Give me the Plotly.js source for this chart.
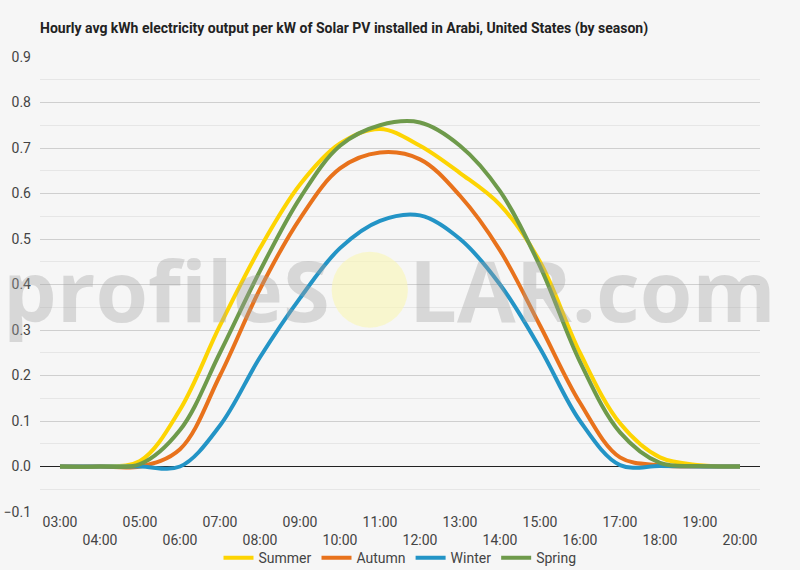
<!DOCTYPE html>
<html>
<head>
<meta charset="utf-8">
<script src="https://cdn.plot.ly/plotly-3.0.1.min.js"></script>
<style>
  html, body { margin: 0; padding: 0; background: #f6f6f6; }
  #chart { width: 800px; height: 570px; }
</style>
</head>
<body>
<div id="chart"></div>
<script>
const hours = [
  "03:00", "04:00", "05:00", "06:00", "07:00", "08:00", "09:00", "10:00", "11:00",
  "12:00", "13:00", "14:00", "15:00", "16:00", "17:00", "18:00", "19:00", "20:00",
];

const summer = [0, 0, 0.012, 0.125, 0.31, 0.48, 0.62, 0.71, 0.742, 0.705, 0.645, 0.575, 0.45, 0.25, 0.095, 0.02, 0.003, 0];
const autumn = [0, 0, 0, 0.038, 0.2, 0.39, 0.545, 0.655, 0.69, 0.675, 0.595, 0.475, 0.31, 0.14, 0.02, 0.003, 0, 0];
const winter = [0, 0, 0, 0, 0.09, 0.24, 0.37, 0.48, 0.54, 0.552, 0.5, 0.4, 0.26, 0.1, 0.003, 0.001, 0, 0];
const spring = [0, 0, 0.005, 0.08, 0.25, 0.43, 0.59, 0.705, 0.75, 0.756, 0.705, 0.605, 0.44, 0.23, 0.075, 0.008, 0.001, 0];

const seriesNames = ["Summer", "Autumn", "Winter", "Spring"];

const THEME = {
  ink: "#222222",
  tick: "#444444",
  grid: "#cfcfcf",
  minorGrid: "#e6e6e6",
  paper: "#f6f6f6",
  fontFamily: "Roboto, \"Noto Sans\", sans-serif",
  colors: ["#fdd402", "#e8721c", "#2394c6", "#6e9a4b"],
};

// alternate the hour labels on two rows like the original
const tickText = hours.map((h, i) => (i % 2 === 0 ? h : "<br>" + h));

function lineTrace(y, name, color) {
  return {
    type: "scatter",
    mode: "lines",
    x: hours,
    y,
    name,
    line: { color, width: 4, shape: "spline", smoothing: 1 },
    hoverinfo: "skip",
  };
}

const traces = [summer, autumn, winter, spring].map((vals, i) =>
  lineTrace(vals, seriesNames[i], THEME.colors[i])
);

const markFont = {
  family: "\"Open Sans\", sans-serif",
  size: 85,
  color: "rgba(160,160,160,0.36)",
  weight: 700,
};

const layout = {
  width: 800,
  height: 570,
  paper_bgcolor: THEME.paper,
  plot_bgcolor: THEME.paper,
  font: { family: THEME.fontFamily, color: THEME.ink, size: 14 },
  margin: { l: 40, r: 40, t: 57, b: 58 },
  title: {
    text: "<b>Hourly avg kWh electricity output per kW of Solar PV installed in Arabi, United States (by season)</b>",
    font: { size: 14, color: THEME.ink },
    x: 0, xanchor: "left", xref: "paper",
    y: 0.951, yanchor: "middle", yref: "container",
  },
  showlegend: true,
  legend: {
    orientation: "h",
    x: 0.5, xanchor: "center",
    y: 0.021, yanchor: "middle", yref: "container",
    font: { size: 14, color: THEME.tick },
    bgcolor: "rgba(0,0,0,0)",
    itemwidth: 30,
  },
  xaxis: {
    type: "category",
    range: [-0.5, 17.5],
    tickmode: "array",
    tickvals: hours,
    ticktext: tickText,
    showgrid: false,
    zeroline: false,
    showline: false,
    ticks: "",
    automargin: false,
    tickfont: { size: 14, color: THEME.tick },
    fixedrange: true,
  },
  yaxis: {
    range: [-0.1, 0.9],
    dtick: 0.1,
    tick0: 0,
    tickformat: ".1f",
    gridcolor: THEME.grid,
    zeroline: true,
    zerolinecolor: "#222222",
    zerolinewidth: 1,
    showline: false,
    ticks: "",
    automargin: false,
    ticklabelstandoff: 8,
    tickfont: { size: 14, color: THEME.tick },
    minor: { dtick: 0.05, showgrid: true, gridcolor: THEME.minorGrid },
    fixedrange: true,
  },
  // profileSOLAR watermark
  shapes: [
    {
      type: "circle", xref: "paper", yref: "paper",
      x0: 0.405, x1: 0.511, y0: 0.405, y1: 0.572,
      fillcolor: "rgba(250,246,180,0.6)", line: { width: 0 }, layer: "above",
    },
  ],
  annotations: [
    {
      text: "profileS", xref: "paper", yref: "paper",
      x: 0.406, xanchor: "right", y: 0.49, yanchor: "middle",
      showarrow: false, font: markFont,
    },
    {
      text: "LAR.com", xref: "paper", yref: "paper",
      x: 0.51, xanchor: "left", y: 0.49, yanchor: "middle",
      showarrow: false, font: markFont,
    },
  ],
};

Plotly.newPlot("chart", traces, layout, { displayModeBar: false, staticPlot: true });
</script>
</body>
</html>
